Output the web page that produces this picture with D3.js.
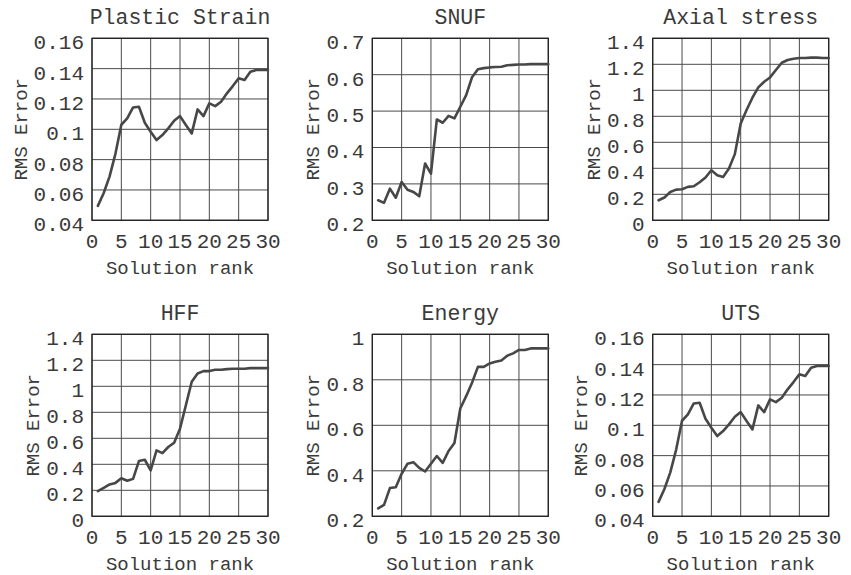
<!DOCTYPE html>
<html>
<head>
<meta charset="utf-8">
<script src="https://cdn.jsdelivr.net/npm/d3@7"></script>
<style>
  html, body { margin: 0; padding: 0; background: #fff; }
  svg { display: block; }
  text { font-family: "Courier New", "Nimbus Mono PS", "FreeMono", "Liberation Mono", monospace; fill: #3a3a3a; }
</style>
</head>
<body>
<svg id="chart" width="851" height="575"></svg>
<script>
// Solution rank 1..30
const ranks = d3.range(1, 31);

// RMS error per solution rank, one array per output quantity
const plasticStrain = [0.0495, 0.058, 0.069, 0.084, 0.103, 0.1072, 0.1144, 0.1149, 0.1043, 0.0984,
  0.0929, 0.0962, 0.1006, 0.1056, 0.1087, 0.1028, 0.0973, 0.1131, 0.1087, 0.1171,
  0.1153, 0.1182, 0.1237, 0.1285, 0.1336, 0.1325, 0.1380, 0.1391, 0.1391, 0.1391];
const snuf = [0.255, 0.248, 0.287, 0.262, 0.305, 0.284, 0.278, 0.266, 0.356, 0.328,
  0.477, 0.468, 0.487, 0.480, 0.512, 0.544, 0.593, 0.615, 0.618, 0.620,
  0.621, 0.622, 0.626, 0.627, 0.628, 0.628, 0.629, 0.629, 0.629, 0.629];
const axialStress = [0.154, 0.175, 0.218, 0.236, 0.239, 0.257, 0.262, 0.293, 0.329, 0.385,
  0.347, 0.334, 0.398, 0.509, 0.745, 0.848, 0.943, 1.022, 1.066, 1.099,
  1.156, 1.212, 1.233, 1.243, 1.248, 1.248, 1.251, 1.251, 1.248, 1.248];
const hff = [0.193, 0.219, 0.245, 0.257, 0.293, 0.273, 0.288, 0.425, 0.435, 0.353,
  0.507, 0.486, 0.533, 0.566, 0.674, 0.854, 1.035, 1.099, 1.117, 1.117,
  1.127, 1.127, 1.132, 1.135, 1.135, 1.135, 1.140, 1.140, 1.140, 1.140];
const energy = [0.235, 0.250, 0.324, 0.328, 0.387, 0.431, 0.438, 0.413, 0.397, 0.431,
  0.465, 0.435, 0.487, 0.522, 0.674, 0.728, 0.787, 0.857, 0.857, 0.872,
  0.879, 0.885, 0.906, 0.916, 0.931, 0.931, 0.938, 0.938, 0.938, 0.938];
const uts = [0.0495, 0.058, 0.069, 0.084, 0.103, 0.1072, 0.1144, 0.1149, 0.1043, 0.0984,
  0.0929, 0.0962, 0.1006, 0.1056, 0.1087, 0.1028, 0.0973, 0.1131, 0.1087, 0.1171,
  0.1153, 0.1182, 0.1237, 0.1285, 0.1336, 0.1325, 0.1380, 0.1391, 0.1391, 0.1391];

// Panel titles and y-axis ranges / tick labels
const titles = ["Plastic Strain", "SNUF", "Axial stress", "HFF", "Energy", "UTS"];
const seriesList = [plasticStrain, snuf, axialStress, hff, energy, uts];
const yDomains = [[0.04, 0.16], [0.2, 0.7], [0, 1.4], [0, 1.4], [0.2, 1], [0.04, 0.16]];
const yTickValues = [
  [0.04, 0.06, 0.08, 0.1, 0.12, 0.14, 0.16],
  [0.2, 0.3, 0.4, 0.5, 0.6, 0.7],
  [0, 0.2, 0.4, 0.6, 0.8, 1, 1.2, 1.4],
  [0, 0.2, 0.4, 0.6, 0.8, 1, 1.2, 1.4],
  [0.2, 0.4, 0.6, 0.8, 1],
  [0.04, 0.06, 0.08, 0.1, 0.12, 0.14, 0.16]
];
const xTickValues = [0, 5, 10, 15, 20, 25, 30];
const xLabel = "Solution rank";
const yLabel = "RMS Error";

// Layout of the 2x3 grid of panels
const plotW = 176, plotH = 182;
const lefts = [92, 372.3, 652.7];
const tops = [38.3, 334.3];

const svg = d3.select("#chart");
const fmt = v => String(+v.toFixed(2));

seriesList.forEach((values, i) => {
  const left = lefts[i % 3], top = tops[Math.floor(i / 3)];
  const g = svg.append("g").attr("transform", `translate(${left},${top})`);

  const x = d3.scaleLinear().domain([0, 30]).range([0, plotW]);
  const y = d3.scaleLinear().domain(yDomains[i]).range([plotH, 0]);

  // grid lines
  g.append("g").selectAll("line.v").data(xTickValues).join("line")
    .attr("x1", d => x(d)).attr("x2", d => x(d)).attr("y1", 0).attr("y2", plotH)
    .attr("stroke", "#4a4a4a").attr("stroke-width", 1);
  g.append("g").selectAll("line.h").data(yTickValues[i]).join("line")
    .attr("x1", 0).attr("x2", plotW).attr("y1", d => y(d)).attr("y2", d => y(d))
    .attr("stroke", "#4a4a4a").attr("stroke-width", 1);

  // frame
  g.append("rect").attr("x", 0).attr("y", 0).attr("width", plotW).attr("height", plotH)
    .attr("fill", "none").attr("stroke", "#222").attr("stroke-width", 1.3);

  // x tick labels
  g.append("g").selectAll("text").data(xTickValues).join("text")
    .attr("x", d => x(d)).attr("y", plotH + 28)
    .attr("text-anchor", "middle").attr("font-size", 21)
    .text(d => d);

  // y tick labels
  const yt = g.append("g").selectAll("text").data(yTickValues[i]).join("text")
    .attr("x", -8).attr("y", d => y(d) + 11)
    .attr("text-anchor", "end").attr("font-size", 21)
    .text(fmt);
  let maxLen = 0;
  yt.each(function () { maxLen = Math.max(maxLen, this.getComputedTextLength()); });

  // series line
  const line = d3.line().x((d, k) => x(ranks[k])).y(d => y(d));
  g.append("path").datum(values)
    .attr("d", line)
    .attr("fill", "none").attr("stroke", "#474747").attr("stroke-width", 2.6)
    .attr("stroke-linejoin", "round").attr("stroke-linecap", "round");

  // title
  g.append("text").attr("x", plotW / 2).attr("y", -14)
    .attr("text-anchor", "middle").attr("font-size", 21.5)
    .text(titles[i]);

  // axis labels
  g.append("text").attr("x", plotW / 2).attr("y", plotH + 53.5)
    .attr("text-anchor", "middle").attr("font-size", 19)
    .text(xLabel);
  g.append("text")
    .attr("transform", `translate(${-8 - maxLen - 7},${plotH / 2}) rotate(-90)`)
    .attr("text-anchor", "middle").attr("font-size", 19)
    .text(yLabel);
});
</script>
</body>
</html>
